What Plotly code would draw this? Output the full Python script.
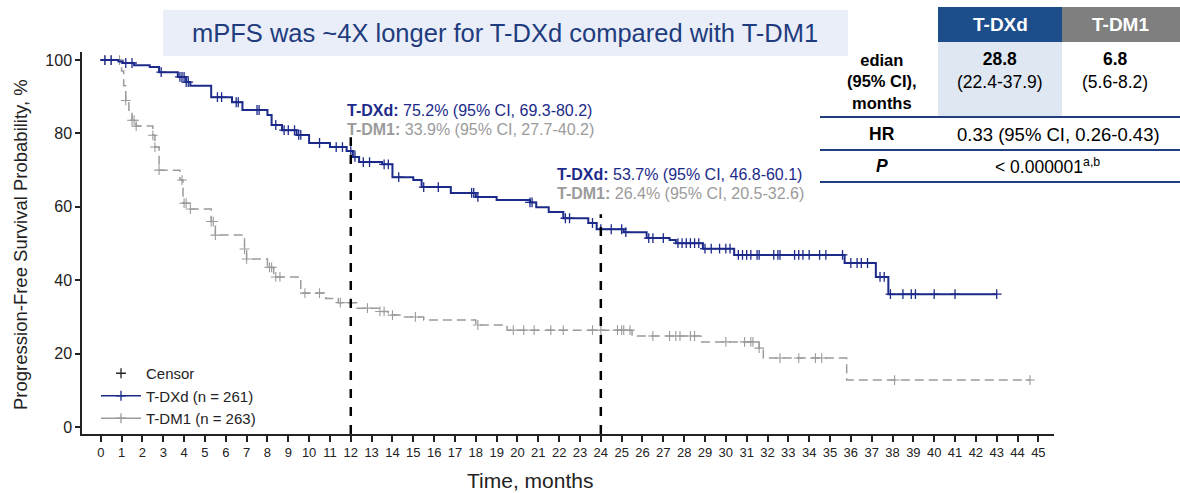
import plotly.graph_objects as go

# ---------------- data ----------------
months_ticks = list(range(0, 46))
prob_ticks = [0, 20, 40, 60, 80, 100]

# T-DXd Kaplan-Meier steps (time in months, PFS %)
tdxd_t = [0, 0.85, 1.06, 1.6, 2.35, 2.8, 3.7, 4.1, 4.3, 5.3, 6.3, 6.8, 8.0, 8.2, 8.7, 9.4, 10.0,
          11.0, 11.8, 12.1, 12.4, 13.5, 14.0, 15.0, 15.4, 16.8, 18.0, 19.0, 20.6, 20.9, 21.5, 22.2,
          23.4, 23.8, 25.1, 26.2, 27.3, 27.6, 28.9, 30.4, 35.7, 37.2, 37.8, 43.0]
tdxd_s = [100, 99.6, 99.2, 98.6, 98.1, 96.7, 95.4, 94.0, 93.0, 89.9, 88.5, 86.4, 85.0, 82.3, 80.9, 79.6, 77.4,
          76.3, 75.2, 73.6, 72.2, 71.6, 68.1, 67.3, 65.4, 63.8, 62.7, 61.9, 61.2, 59.9, 58.6, 56.9,
          55.6, 53.9, 53.1, 51.5, 51.0, 50.1, 48.6, 46.9, 44.7, 40.9, 36.2, 36.2]
tdxd_censor = [0.2, 0.5, 1.2, 1.5, 2.9, 3.8, 3.9, 4.0, 4.1, 4.2, 5.6, 5.8, 6.5, 6.6, 7.5, 7.6, 8.4, 8.8,
               9.0, 9.3, 9.5, 9.6, 10.5, 11.3, 11.6, 12.0, 12.2, 12.6, 12.9, 13.6, 13.8, 14.3, 15.5,
               16.2, 17.8, 17.9, 18.1, 20.6, 20.7, 22.3, 22.5, 23.6, 24.0, 24.5, 25.0, 25.2, 26.3,
               26.5, 27.0, 27.7, 27.9, 28.1, 28.3, 28.5, 28.7, 29.0, 29.3, 29.7, 30.0, 30.2, 30.6,
               30.8, 31.0, 31.2, 31.5, 31.6, 32.3, 32.5, 32.6, 33.3, 33.5, 33.7, 34.0, 34.5, 34.8,
               35.6, 36.0, 36.3, 36.5, 36.8, 37.4, 37.6, 37.9, 38.5, 38.9, 39.1, 40.0, 41.0, 43.0]

# T-DM1 Kaplan-Meier steps
tdm1_t = [0, 1.0, 1.1, 1.2, 1.35, 1.5, 1.7, 2.5, 2.6, 2.8, 3.8, 3.95, 4.3, 5.3, 5.5, 6.9, 7.0, 8.0,
          8.3, 9.6, 10.8, 11.4, 12.3, 13.4, 13.8, 14.4, 15.5, 18.0, 19.5, 25.5, 28.8, 31.6, 31.8,
          35.8, 44.6]
tdm1_s = [100, 97.0, 93.0, 89.0, 86.0, 83.6, 82.0, 79.5, 76.3, 70.0, 67.3, 61.0, 59.4, 56.0, 52.3, 48.5,
          45.8, 43.5, 40.9, 36.5, 35.0, 33.9, 32.4, 31.5, 30.5, 30.0, 29.2, 27.8, 26.4, 24.8, 23.2,
          21.5, 18.8, 12.8, 12.8]
tdm1_censor = [0.2, 0.5, 0.9, 1.2, 1.5, 1.6, 1.7, 2.5, 2.6, 2.8, 3.9, 4.0, 4.1, 4.3, 5.3, 5.4, 5.5,
               6.9, 7.0, 8.1, 8.2, 8.4, 8.6, 9.8, 10.5, 11.5, 12.0, 12.8, 13.4, 13.6, 14.0, 15.1,
               18.1, 19.8, 20.3, 20.8, 21.6, 22.2, 23.6, 24.0, 24.8, 25.0, 25.1, 25.4, 26.5, 27.3,
               27.6, 27.8, 28.3, 28.5, 30.0, 30.9, 31.2, 31.3, 31.6, 32.6, 33.5, 34.3, 34.6, 38.1, 44.6]

landmarks = [12, 24]
landmark_tops = [79, 58]

BLUE = "#1c2a8a"
GRAY = "#9b9b9b"
FONT = "Arial, Liberation Sans, sans-serif"


def step_value(ts, ss, t):
    v = ss[0]
    for ti, si in zip(ts, ss):
        if ti <= t:
            v = si
    return v


W, H = 1180, 493
L, R, T, B = 82, 126, 52, 59
PW, PH = W - L - R, H - T - B


def px(x):
    return (x - L) / PW


def py(y):
    return (H - B - y) / PH


fig = go.Figure()

# curves
fig.add_trace(go.Scatter(x=tdm1_t, y=tdm1_s, mode="lines",
                         line=dict(color=GRAY, width=1.5, dash="9px,5px", shape="hv"),
                         showlegend=False, hoverinfo="skip"))
fig.add_trace(go.Scatter(x=tdm1_censor, y=[step_value(tdm1_t, tdm1_s, t) for t in tdm1_censor], mode="markers",
                         marker=dict(symbol="cross-thin", size=7, line=dict(color=GRAY, width=1.1)),
                         showlegend=False, hoverinfo="skip"))
fig.add_trace(go.Scatter(x=tdxd_t, y=tdxd_s, mode="lines", line=dict(color=BLUE, width=2, shape="hv"),
                         showlegend=False, hoverinfo="skip"))
fig.add_trace(go.Scatter(x=tdxd_censor, y=[step_value(tdxd_t, tdxd_s, t) for t in tdxd_censor], mode="markers",
                         marker=dict(symbol="cross-thin", size=7, line=dict(color=BLUE, width=1.3)),
                         showlegend=False, hoverinfo="skip"))

# legend entries
fig.add_trace(go.Scatter(x=[None], y=[None], mode="markers", name="Censor",
                         marker=dict(symbol="cross-thin", size=7, color="#222", line=dict(color="#222", width=1.3))))
fig.add_trace(go.Scatter(x=[None], y=[None], mode="lines+markers", name="T-DXd (n = 261)",
                         line=dict(color=BLUE, width=1.3),
                         marker=dict(symbol="cross-thin", size=7, color=BLUE, line=dict(color=BLUE, width=1.3))))
fig.add_trace(go.Scatter(x=[None], y=[None], mode="lines+markers", name="T-DM1 (n = 263)",
                         line=dict(color=GRAY, width=1.3),
                         marker=dict(symbol="cross-thin", size=7, color=GRAY, line=dict(color=GRAY, width=1.3))))

shapes = []
for lm, top in zip(landmarks, landmark_tops):
    shapes.append(dict(type="line", xref="x", yref="y", x0=lm, x1=lm, y0=-1.9, y1=top,
                       line=dict(color="black", width=2.5, dash="dash")))

# title box
shapes.append(dict(type="rect", xref="paper", yref="paper", x0=px(163), x1=px(848), y0=py(56), y1=py(10),
                   fillcolor="#e9eef8", line=dict(width=0), layer="below"))
# table
shapes.append(dict(type="rect", xref="paper", yref="paper", x0=px(938), x1=px(1062), y0=py(42), y1=py(7),
                   fillcolor="#1d4e8c", line=dict(width=0)))
shapes.append(dict(type="rect", xref="paper", yref="paper", x0=px(1062), x1=px(1180), y0=py(42), y1=py(7),
                   fillcolor="#7f7f7f", line=dict(width=0)))
shapes.append(dict(type="rect", xref="paper", yref="paper", x0=px(938), x1=px(1062), y0=py(116), y1=py(42),
                   fillcolor="#dfe7f3", line=dict(width=0), layer="below"))
for yy in [117, 150, 182]:
    shapes.append(dict(type="line", xref="paper", yref="paper", x0=px(820), x1=px(1180), y0=py(yy), y1=py(yy),
                       line=dict(color="#1f3f7f", width=2)))

annotations = []


def ann(x, y, text, size, color="black", xanchor="center", yanchor="middle", angle=0):
    annotations.append(dict(xref="paper", yref="paper", x=px(x), y=py(y), text=text, showarrow=False,
                            font=dict(size=size, color=color, family=FONT), xanchor=xanchor, yanchor=yanchor,
                            align="center", textangle=angle))


ann(505, 33, "mPFS was ~4X longer for T-DXd compared with T-DM1", 25.5, "#1f3c7e")

ann(345, 110, "<b>T-DXd:</b> 75.2% (95% CI, 69.3-80.2)", 16, BLUE, xanchor="left")
ann(345, 129, "<b>T-DM1:</b> 33.9% (95% CI, 27.7-40.2)", 16, GRAY, xanchor="left")
ann(555, 174, "<b>T-DXd:</b> 53.7% (95% CI, 46.8-60.1)", 16, BLUE, xanchor="left")
ann(555, 193, "<b>T-DM1:</b> 26.4% (95% CI, 20.5-32.6)", 16, GRAY, xanchor="left")

ann(1000, 24, "<b>T-DXd</b>", 19, "white")
ann(1120, 24, "<b>T-DM1</b>", 19, "white")
ann(882, 81, "<b>edian<br>(95% CI),<br>months</b>", 16.5)
ann(1000, 71, "<b>28.8</b><br>(22.4-37.9)", 17.5)
ann(1115, 71, "<b>6.8</b><br>(5.6-8.2)", 17.5)
ann(882, 134, "<b>HR</b>", 17.5)
ann(1058, 134, "0.33 (95% CI, 0.26-0.43)", 18.5)
ann(882, 166, "<b><i>P</i></b>", 17.5)
ann(1047, 166, "&lt; 0.000001<sup>a,b</sup>", 17.5)

# axis titles
ann(530, 480, "Time, months", 21, "#222")
ann(21, 245, "Progression-Free Survival Probability, %", 18.5, "#222", angle=-90)

fig.update_layout(
    width=W, height=H,
    margin=dict(l=L, r=R, t=T, b=B, pad=0, autoexpand=False),
    paper_bgcolor="white", plot_bgcolor="white",
    font=dict(family=FONT, color="#222"),
    shapes=shapes, annotations=annotations,
    legend=dict(x=px(96), y=py(357), xanchor="left", yanchor="top", font=dict(size=15, family=FONT, color="#222"),
                bgcolor="rgba(0,0,0,0)", itemwidth=40, tracegroupgap=0),
    xaxis=dict(range=[-0.9, 45.75], tickmode="array", tickvals=months_ticks, ticks="outside", ticklen=6,
               tickwidth=1.5, tickcolor="#222", showline=True, linecolor="#222", linewidth=1.5,
               showgrid=False, zeroline=False, tickfont=dict(size=13, family=FONT), automargin=False),
    yaxis=dict(range=[-1.9, 102.2], tickmode="array", tickvals=prob_ticks, ticks="outside", ticklen=5,
               tickwidth=1.5, tickcolor="#222", showline=True, linecolor="#222", linewidth=1.5,
               showgrid=False, zeroline=False, tickfont=dict(size=16, family=FONT), automargin=False),
)

fig.write_html("out.html", config={"displayModeBar": False},
               post_script="document.body.style.margin='0';document.body.style.overflow='hidden';")
